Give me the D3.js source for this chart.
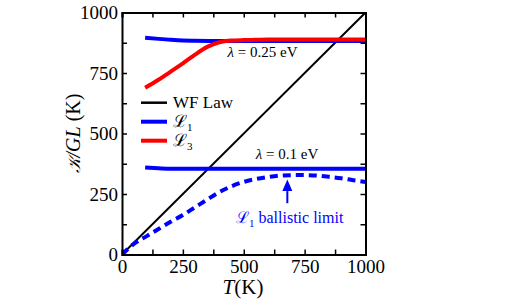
<!DOCTYPE html>
<html><head><meta charset="utf-8">
<script src="https://cdn.jsdelivr.net/npm/d3@7"></script>
</head>
<body style="margin:0"><svg id="c" width="523" height="308" font-family="Liberation Serif"></svg>
<script>
// ---- data ----
const wfT = [0, 1000];
const wfK = [0, 1000];
const l1HighT = [95, 150, 200, 250, 300, 400, 500, 600, 700, 800, 900, 1000];
const l1HighK = [896, 891, 887, 884, 883, 882, 882, 882, 882, 882, 882, 882];
const l3HighT = [95, 150, 200, 250, 300, 350, 400, 450, 500, 550, 600, 700, 800, 900, 1000];
const l3HighK = [689, 722, 756, 790, 826, 858, 877, 884, 886, 887, 888, 888, 888, 888, 888];
const l1LowT = [95, 150, 200, 250, 300, 400, 500, 600, 700, 800, 900, 1000];
const l1LowK = [359, 356, 354, 354, 354, 354, 354, 354, 354, 354, 354, 354];
const ballT = [0, 50, 100, 150, 200, 250, 300, 350, 400, 450, 500, 550, 600, 650, 700, 750, 800, 850, 900, 950, 1000];
const ballK = [0, 45, 75, 105, 135, 163, 195, 227, 258, 282, 300, 312, 320, 326, 328, 328, 326, 321, 315, 307, 300];
const tickVals = [0, 125, 250, 375, 500, 625, 750, 875, 1000];
const tickLabels = ["0", "", "250", "", "500", "", "750", "", "1000"];

const FONT = "Liberation Serif";
const svg = d3.select("#c");
const m = {l:122, r:365.5, t:12.5, b:254.5};
const x = d3.scaleLinear().domain([0,1000]).range([m.l, m.r]);
const y = d3.scaleLinear().domain([0,1000]).range([m.b, m.t]);

svg.append("clipPath").attr("id","clip").append("rect")
  .attr("x", m.l).attr("y", m.t).attr("width", m.r-m.l).attr("height", m.b-m.t);

const line = d3.line().x(d=>x(d[0])).y(d=>y(d[1])).curve(d3.curveMonotoneX);
const zip = (a,b)=>a.map((v,i)=>[v,b[i]]);
const g = svg.append("g").attr("clip-path","url(#clip)");

g.append("path").datum(zip(wfT,wfK)).attr("d", d3.line().x(d=>x(d[0])).y(d=>y(d[1])))
  .attr("fill","none").attr("stroke","#000").attr("stroke-width",2);
g.append("path").datum(zip(l1HighT,l1HighK)).attr("d", line)
  .attr("fill","none").attr("stroke","#0000ff").attr("stroke-width",4);
g.append("path").datum(zip(l3HighT,l3HighK)).attr("d", line)
  .attr("fill","none").attr("stroke","#ff0000").attr("stroke-width",4);
g.append("path").datum(zip(l1LowT,l1LowK)).attr("d", line)
  .attr("fill","none").attr("stroke","#0000ff").attr("stroke-width",4);
g.append("path").datum(zip(ballT,ballK)).attr("d", line)
  .attr("fill","none").attr("stroke","#0000ff").attr("stroke-width",4)
  .attr("stroke-dasharray","8,5");

// axes
const fmt = (d)=>tickLabels[tickVals.indexOf(d)];
const ax = (gen, tx, ty, labels) => {
  const a = svg.append("g").attr("transform",`translate(${tx},${ty})`)
    .call(gen.tickValues(tickVals).tickSize(-5).tickPadding(3).tickFormat(labels?fmt:()=>""));
  a.attr("font-family", FONT).attr("font-size", 19);
  a.select(".domain").attr("stroke","#000").attr("stroke-width",2);
  a.selectAll(".tick line").attr("stroke","#000").attr("stroke-width",1.5);
  a.selectAll("text").attr("fill","#000");
  return a;
};
ax(d3.axisBottom(x), 0, m.b, true).selectAll("text").attr("dy","0.8em");
ax(d3.axisLeft(y), m.l, 0, true).selectAll("text").attr("dx","-0.05em");
ax(d3.axisTop(x), 0, m.t, false);
ax(d3.axisRight(y), m.r, 0, false);

// axis titles
const xt = svg.append("text").attr("x", 243).attr("y", 294).attr("text-anchor","middle").attr("font-size",21);
xt.append("tspan").attr("font-style","italic").text("T");
xt.append("tspan").text("(K)");
const yt = svg.append("text").attr("transform",`translate(80,${(m.t+m.b)/2}) rotate(-90)`)
  .attr("text-anchor","middle").attr("font-size",20);
yt.append("tspan").attr("font-style","italic").attr("font-size",17).text("𝒦");
yt.append("tspan").attr("font-style","italic").text("/GL");
yt.append("tspan").text(" (K)");

// annotations
const a1 = svg.append("text").attr("x", x(577)).attr("y", 57).attr("text-anchor","middle").attr("font-size",15);
a1.append("tspan").attr("font-style","italic").text("λ");
a1.append("tspan").text(" = 0.25 eV");
const a2 = svg.append("text").attr("x", x(678)).attr("y", 159).attr("text-anchor","middle").attr("font-size",15);
a2.append("tspan").attr("font-style","italic").text("λ");
a2.append("tspan").text(" = 0.1 eV");
const a3 = svg.append("text").attr("x", 236).attr("y", 223).attr("font-size",16).attr("fill","#0000ff");
a3.append("tspan").text("ℒ");
a3.append("tspan").attr("font-size",11).attr("dy",4).text("1");
a3.append("tspan").attr("dy",-4).text(" ballistic limit");

// arrow
const arrowT = [679];
const arrowK = [212, 262, 310];
svg.append("line").attr("x1", x(arrowT[0])).attr("x2", x(arrowT[0]))
  .attr("y1", y(arrowK[0])).attr("y2", y(arrowK[1])).attr("stroke","#0000ff").attr("stroke-width",2);
svg.append("path").attr("fill","#0000ff")
  .attr("d", `M${x(arrowT[0])-5},${y(arrowK[1])} L${x(arrowT[0])+5},${y(arrowK[1])} L${x(arrowT[0])},${y(arrowK[2])} Z`);

// legend
const legNames = ["WF Law", "ℒ", "ℒ"];
const legSubs = ["", "1", "3"];
const legColors = ["#000", "#0000ff", "#ff0000"];
const legW = [2.5, 4, 4];
legNames.forEach((n,i)=>{
  const yy = 102.7 + i*19;
  svg.append("line").attr("x1",141).attr("x2",167).attr("y1",yy).attr("y2",yy)
    .attr("stroke",legColors[i]).attr("stroke-width",legW[i]);
  const t = svg.append("text").attr("x",173).attr("y",yy+5.5).attr("font-size",17).text(n);
  if (legSubs[i]) t.append("tspan").attr("font-size",11).attr("dy",4).text(legSubs[i]);
});

svg.selectAll("text").attr("font-family", FONT).style("font-family", `'${FONT}'`);
</script></body></html>
